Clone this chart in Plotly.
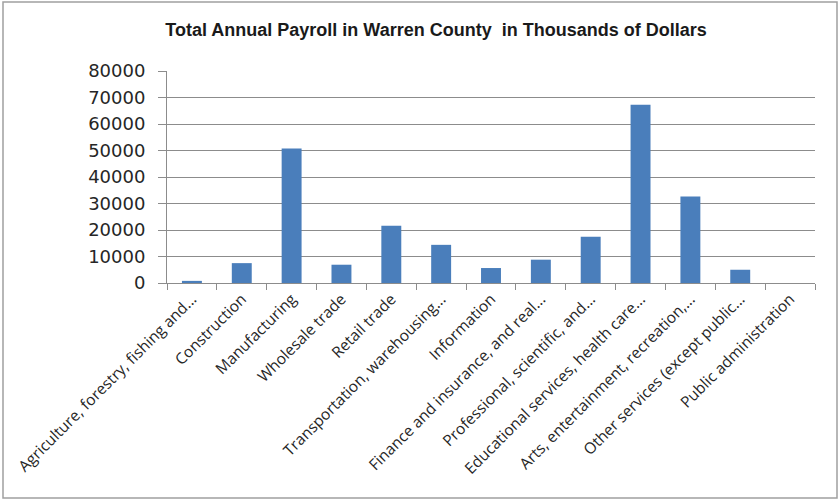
import plotly.graph_objects as go

# Industry sectors and payroll (thousands of dollars)
categories = [
    "Agriculture, forestry, fishing and...",
    "Construction",
    "Manufacturing",
    "Wholesale trade",
    "Retail trade",
    "Transportation, warehousing...",
    "Information",
    "Finance and insurance, and real...",
    "Professional, scientific, and...",
    "Educational services, health care...",
    "Arts, entertainment, recreation,...",
    "Other services (except public...",
    "Public administration",
]
payroll = [800, 7500, 50800, 6900, 21600, 14400, 5650, 8800, 17500, 67300, 32600, 5000, 0]
y_ticks = [0, 10000, 20000, 30000, 40000, 50000, 60000, 70000, 80000]

W, H = 840, 501
L, R, T, B = 167, 25, 71, 218
pw, ph = W - L - R, H - T - B

fig = go.Figure(
    go.Bar(
        x=categories,
        y=payroll,
        marker=dict(color="#4a7ebb", line=dict(width=0)),
    )
)

fig.update_layout(
    width=W,
    height=H,
    margin=dict(l=L, r=R, t=T, b=B, pad=0),
    paper_bgcolor="white",
    plot_bgcolor="white",
    bargap=0.6,
    showlegend=False,
    title=dict(
        text="<b>Total Annual Payroll in Warren County  in Thousands of Dollars</b>",
        x=436 / W,
        xanchor="center",
        y=1 - 30 / H,
        yanchor="middle",
        font=dict(family="Liberation Sans Narrow, Arial Narrow, Liberation Sans", size=18, color="#1a1a1a"),
    ),
    xaxis=dict(
        tickangle=-45,
        tickfont=dict(family="Open Sans, Liberation Sans", size=15.5, color="#262626"),
        showline=True,
        linecolor="#8c8c8c",
        linewidth=1,
        ticks="outside",
        tickson="boundaries",
        ticklen=6,
        tickcolor="#8c8c8c",
        showgrid=False,
    ),
    yaxis=dict(
        range=[0, 80000],
        tickvals=y_ticks,
        ticktext=[str(v) for v in y_ticks],
        tickfont=dict(family="DejaVu Sans", size=18, color="#262626"),
        showline=True,
        linecolor="#8c8c8c",
        linewidth=1,
        ticks="outside",
        ticklen=8,
        tickcolor="#8c8c8c",
        ticklabelstandoff=9,
        showgrid=True,
        gridcolor="#8c8c8c",
        gridwidth=1,
        zeroline=False,
    ),
    shapes=[
        dict(
            type="rect",
            xref="paper",
            yref="paper",
            x0=(3 - L) / pw,
            x1=(837 - L) / pw,
            y0=(H - B - 498) / ph,
            y1=(H - B - 2) / ph,
            line=dict(color="#a0a0a0", width=1.5),
            fillcolor="rgba(0,0,0,0)",
            layer="below",
        )
    ],
)

fig.write_html("out.html")
